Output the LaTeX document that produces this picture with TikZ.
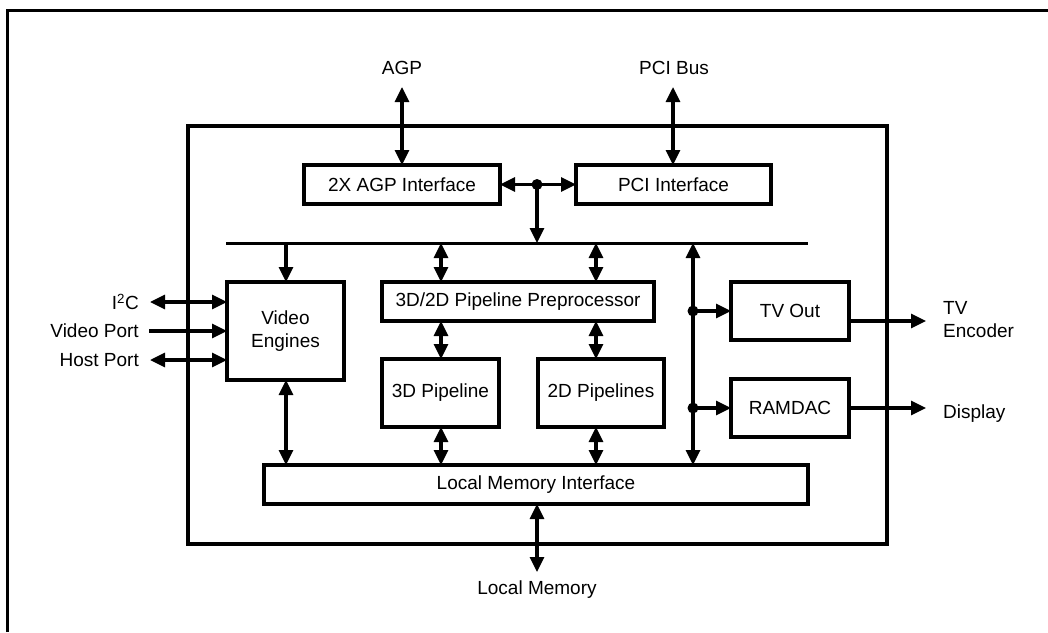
\documentclass[tikz,border=0pt]{standalone}
\usepackage{fontspec}
\setmainfont{Liberation Sans}
\usetikzlibrary{arrows.meta}
\begin{document}
\begin{tikzpicture}[x=1pt,y=-1pt,
  box/.style={draw,line width=3.2pt,inner sep=0pt,outer sep=0pt,align=center,fill=white},
  lab/.style={inner sep=0pt,align=left},
  arr/.style={line width=3.2pt,-{Triangle[length=15pt,width=14pt]}},
  bi/.style={line width=3.2pt,{Triangle[length=15pt,width=14pt]}-{Triangle[length=15pt,width=14pt]}},
  dot/.style={circle,fill=black,inner sep=0pt,minimum size=11pt},
  font=\fontsize{19}{23}\selectfont]
\useasboundingbox (0,0) rectangle (1048,632);
% outer frame (only left and top edges visible)
\draw[line width=3pt] (7,632) -- (7,10) -- (1048,10);
% chip box
\draw[line width=3.2pt] (188,126) rectangle (887,544);

% blocks
\node[box,minimum width=196pt,minimum height=39pt] (agpif) at (402,184.5) {2X AGP Interface};
\node[box,minimum width=195pt,minimum height=39pt] (pciif) at (673.5,184.5) {PCI Interface};
\node[box,minimum width=117pt,minimum height=98pt] (video) at (285.5,331) {Video\\Engines};
\node[box,minimum width=272pt,minimum height=39pt] (pre) at (518,301.5) {3D/2D Pipeline Preprocessor};
\node[box,minimum width=117pt,minimum height=68pt] (p3d) at (440.5,393) {3D Pipeline};
\node[box,minimum width=126pt,minimum height=68pt] (p2d) at (601,393) {2D Pipelines};
\node[box,minimum width=118pt,minimum height=58pt] (tvout) at (790,311) {TV Out};
\node[box,minimum width=118pt,minimum height=58pt] (ramdac) at (790,408) {RAMDAC};
\node[box,minimum width=544pt,minimum height=39pt] (lmi) at (536,484.5) {Local Memory Interface};

% external labels
\node[lab] (agp) at (402,68) {AGP};
\node[lab] (pcibus) at (674,68) {PCI Bus};
\node[lab,anchor=east] (i2cl) at (139,302) {I\textsuperscript{2}C};
\node[lab,anchor=east] (vpl) at (139,331) {Video Port};
\node[lab,anchor=east] (hpl) at (139,360) {Host Port};
\node[lab,anchor=west] (tvenc) at (943,320) {TV\\Encoder};
\node[lab,anchor=west] (disp) at (943,414) {Display};
\node[lab] (lmem) at (537,590) {Local Memory};

% coordinates
\coordinate (agptop) at (402,87);
\coordinate (pcitop) at (673,87);
\coordinate (bl) at (226,243);
\coordinate (br) at (808,243);
\coordinate (b1) at (441,243);
\coordinate (b2) at (596,243);
\coordinate (bv) at (286,243);
\coordinate (bj) at (537,243);
\coordinate (br2) at (693,243);
\coordinate (i2c) at (150,302);
\coordinate (vp) at (149,331);
\coordinate (hp) at (150,360);
\coordinate (tve) at (926,321);
\coordinate (dsp) at (926,408);
\coordinate (lm) at (537,572);

% top connections
\draw[bi] (agptop) -- (agpif.north -| agptop);
\draw[bi] (pcitop) -- (pciif.north -| pcitop);
\node[dot] (j) at (537,184.5) {};
\draw[arr] (j.center) -- (agpif.east);
\draw[arr] (j.center) -- (pciif.west);
\draw[arr] (j.center) -- (bj);

% bus
\draw[line width=3pt] (bl) -- (br);
\draw[arr] (bv) -- (video.north -| bv);
\draw[bi] (b1) -- (pre.north -| b1);
\draw[bi] (b2) -- (pre.north -| b2);
\draw[bi] (pre.south -| b1) -- (p3d.north -| b1);
\draw[bi] (pre.south -| b2) -- (p2d.north -| b2);
\draw[bi] (p3d.south -| b1) -- (lmi.north -| b1);
\draw[bi] (p2d.south -| b2) -- (lmi.north -| b2);
\draw[bi] (video.south -| bv) -- (lmi.north -| bv);
\draw[bi] (br2) -- (lmi.north -| br2);

% right side
\node[dot] (d1) at (693,311) {};
\node[dot] (d2) at (693,408) {};
\draw[arr] (d1.center) -- (tvout.west |- d1);
\draw[arr] (d2.center) -- (ramdac.west |- d2);
\draw[arr] (tvout.east |- tve) -- (tve);
\draw[arr] (ramdac.east |- dsp) -- (dsp);

% left side
\draw[bi] (i2c) -- (video.west |- i2c);
\draw[arr] (vp) -- (video.west |- vp);
\draw[bi] (hp) -- (video.west |- hp);

% bottom
\draw[bi] (lmi.south -| lm) -- (lm);
\end{tikzpicture}
\end{document}
